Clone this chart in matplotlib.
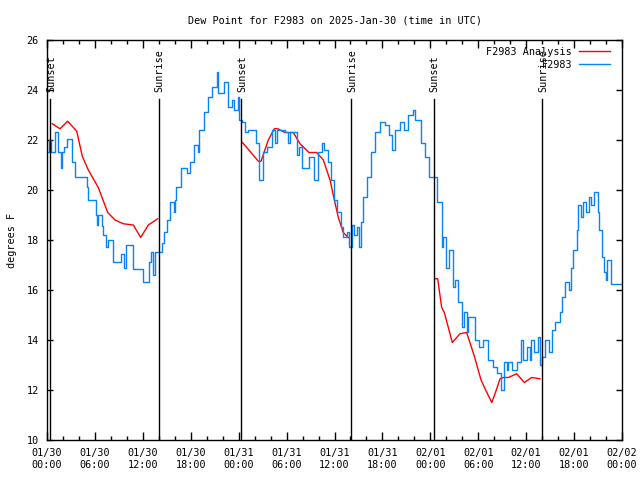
import matplotlib
matplotlib.use("Agg")
import matplotlib.pyplot as plt
import numpy as np

plt.rcParams['font.family'] = ['DejaVu Sans Mono']
FS = 7.3

# ---- data (hours since 2025-01-30 00:00 UTC) ----
obs_hours = [0.0, 0.25, 0.5, 1.0, 1.41, 1.72, 1.92, 2.17, 2.47, 2.75, 3.09, 3.51, 4.85, 5.05, 5.17, 5.89,
             6.1, 6.22, 6.39, 6.76, 6.92, 7.05, 7.35, 7.68, 8.23, 8.3, 8.85, 9.27, 9.64, 9.85, 10.68, 10.81,
             11.86, 12.06, 12.56, 12.77, 13.02, 13.31, 13.52, 14.15, 14.44, 14.69, 14.99, 15.4, 15.9, 16.03,
             16.15, 16.53, 16.78, 17.49, 17.91, 18.45, 18.87, 19.07, 19.66, 20.2, 20.62, 21.25, 21.45, 22.16,
             22.5, 22.7, 23.13, 23.45, 23.88, 24.04, 24.46, 24.8, 25.21, 25.83, 26.13, 26.59, 27.09, 27.51,
             28.14, 28.55, 28.76, 29.39, 29.8, 30.22, 30.43, 31.27, 31.56, 31.89, 32.64, 32.81, 33.35, 33.47,
             33.9, 34.4, 34.72, 35.15, 35.53, 35.98, 36.28, 36.82, 37.1, 37.53, 37.86, 38.16, 38.48, 38.82,
             39.07, 39.28, 39.61, 40.03, 40.57, 41.07, 41.7, 42.33, 42.83, 43.16, 43.58, 44.2, 44.74, 45.24,
             45.79, 46.08, 46.83, 47.33, 47.83, 48.37, 48.8, 49.42, 49.62, 49.93, 50.34, 50.88, 51.09, 51.5,
             51.93, 52.25, 52.55, 52.75, 53.26, 53.59, 54.1, 54.63, 55.06, 55.26, 55.89, 56.31, 56.85, 57.19,
             57.56, 57.77, 58.19, 58.52, 58.82, 59.35, 59.64, 60.07, 60.48, 60.61, 61.02, 61.45, 61.73, 62.02,
             62.36, 62.9, 63.2, 63.61, 64.24, 64.53, 64.86, 65.4, 65.58, 65.9, 66.33, 66.53, 66.83, 67.08,
             67.49, 67.87, 68.12, 68.53, 68.96, 69.16, 69.46, 69.75, 69.96, 70.09, 70.37, 70.59, 72.0]
obs_dewpt = [21.53, 22.0, 21.5, 22.3, 21.5, 20.9, 21.5, 21.7, 22.05, 22.05, 21.1, 20.5, 20.5, 20.1, 19.6, 19.6,
             19.0, 18.6, 19.0, 19.0, 18.55, 18.2, 17.7, 18.0, 18.0, 17.1, 17.1, 17.45, 16.9, 17.8, 17.8, 16.85,
             16.85, 16.3, 16.3, 17.1, 17.5, 16.6, 17.5, 17.5, 17.9, 18.3, 18.8, 19.5, 19.1, 19.6,
             20.1, 20.1, 20.9, 20.7, 21.1, 21.8, 21.5, 22.4, 23.1, 23.7, 24.1, 24.7, 23.9, 24.3,
             24.3, 23.3, 23.6, 23.2, 23.7, 22.8, 22.7, 22.3, 22.4, 22.4, 21.9, 20.4, 21.5, 21.7,
             22.4, 21.9, 22.4, 22.4, 22.3, 21.9, 22.3, 21.4, 21.7, 20.9, 20.9, 21.3, 21.3, 20.4,
             21.5, 21.9, 21.6, 21.1, 20.4, 19.6, 19.1, 18.5, 18.1, 18.3, 17.7, 18.6, 18.2, 18.5,
             17.7, 18.7, 19.7, 20.5, 21.5, 22.3, 22.7, 22.6, 22.2, 21.6, 22.4, 22.7, 22.4, 23.0,
             23.2, 22.8, 21.9, 21.3, 20.5, 20.5, 19.5, 17.7, 18.1, 16.9, 17.6, 16.1, 16.4, 15.5,
             14.5, 15.1, 14.3, 14.9, 14.9, 14.0, 13.7, 14.0, 14.0, 13.2, 12.9, 12.7, 12.0, 13.1,
             12.8, 13.1, 12.8, 12.8, 13.1, 14.0, 13.2, 13.7, 13.2, 14.0, 13.5, 14.1, 13.0, 13.3,
             14.0, 13.5, 14.4, 14.7, 15.1, 15.7, 16.3, 16.0, 16.9, 17.6, 18.4, 19.4, 18.9, 19.5,
             19.1, 19.7, 19.4, 19.9, 19.1, 18.4, 17.3, 16.7, 16.4, 17.2, 17.2, 16.25, 16.25]

ana1_hours = [0.66, 1.63, 2.59, 3.72, 4.42, 5.17, 6.42, 7.6, 8.52, 9.55, 10.81, 11.73, 12.69, 13.86]
ana1_dewpt = [22.65, 22.45, 22.75, 22.35, 21.35, 20.8, 20.1, 19.1, 18.8, 18.65, 18.6, 18.1, 18.6, 18.85]
ana2_hours = [24.46, 25.42, 26.46, 26.8, 27.71, 28.46, 28.89, 29.8, 30.84, 31.68, 32.81, 33.77, 34.6,
              35.44, 35.98, 36.48, 37.1, 37.73]
ana2_dewpt = [21.9, 21.55, 21.15, 21.15, 22.0, 22.45, 22.45, 22.3, 22.3, 21.85, 21.5, 21.5, 21.2,
              20.4, 19.6, 18.9, 18.3, 18.1]
ana3_hours = [48.59, 48.92, 49.42, 49.75, 50.75, 51.71, 52.55, 53.51, 54.35, 54.85, 55.69, 56.1, 56.73,
              57.14, 57.77, 58.82, 59.77, 60.69, 61.73]
ana3_dewpt = [16.45, 16.45, 15.3, 15.1, 13.9, 14.25, 14.3, 13.35, 12.4, 12.05, 11.5, 11.85, 12.45,
              12.5, 12.5, 12.65, 12.3, 12.5, 12.45]

sun_hours = [0.4, 14.0, 24.3, 38.1, 48.4, 62.0]
sun_labels = ["Sunset", "Sunrise", "Sunset", "Sunrise", "Sunset", "Sunrise"]

xtick_hours = [0, 6, 12, 18, 24, 30, 36, 42, 48, 54, 60, 66, 72]
xtick_labels = ["01/30\n00:00", "01/30\n06:00", "01/30\n12:00", "01/30\n18:00",
                "01/31\n00:00", "01/31\n06:00", "01/31\n12:00", "01/31\n18:00",
                "02/01\n00:00", "02/01\n06:00", "02/01\n12:00", "02/01\n18:00",
                "02/02\n00:00"]
ytick_vals = [10, 12, 14, 16, 18, 20, 22, 24, 26]

RED = '#ff0000'
BLUE = '#0a84f5'

fig = plt.figure(figsize=(6.4, 4.8), dpi=100)
ax = fig.add_axes([47/640, 40/480, 575/640, 400/480])

ax.plot(ana1_hours, ana1_dewpt, color=RED, lw=1.0, label='F2983 Analysis')
ax.plot(ana2_hours, ana2_dewpt, color=RED, lw=1.0)
ax.plot(ana3_hours, ana3_dewpt, color=RED, lw=1.0)
ax.plot(obs_hours, obs_dewpt, color=BLUE, lw=1.0, drawstyle='steps-post', label='F2983')

for h, lab in zip(sun_hours, sun_labels):
    ax.axvline(h, ymin=0, ymax=0.8525, color='black', lw=1.0)
    ax.text(h + 0.12, 23.9, lab, rotation=90, ha='center', va='bottom', fontsize=FS)

ax.set_xlim(0, 72)
ax.set_ylim(10, 26)
ax.set_xticks(xtick_hours)
ax.set_xticklabels(xtick_labels, fontsize=FS, linespacing=1.25)
ax.set_xticks(np.arange(0, 73, 2), minor=True)
ax.set_yticks(ytick_vals)
ax.set_yticklabels([str(v) for v in ytick_vals], fontsize=FS)
ax.tick_params(axis='both', which='major', direction='in', length=6, width=1,
               top=True, right=True, pad=6)
ax.tick_params(axis='x', which='minor', direction='in', length=3, width=1, top=True, bottom=True)
ax.tick_params(axis='y', which='major', length=4)
for s in ax.spines.values():
    s.set_linewidth(1)

ax.set_title("Dew Point for F2983 on 2025-Jan-30 (time in UTC)", fontsize=FS, pad=12)
ax.set_ylabel("degrees F", fontsize=FS, labelpad=7)

leg = ax.legend(loc='upper right', bbox_to_anchor=(0.99, 1.0), frameon=False, fontsize=FS,
                markerfirst=False, handlelength=3.0, handletextpad=0.7, labelspacing=0.3,
                borderaxespad=0.25)

fig.savefig("out.png", dpi=100)
